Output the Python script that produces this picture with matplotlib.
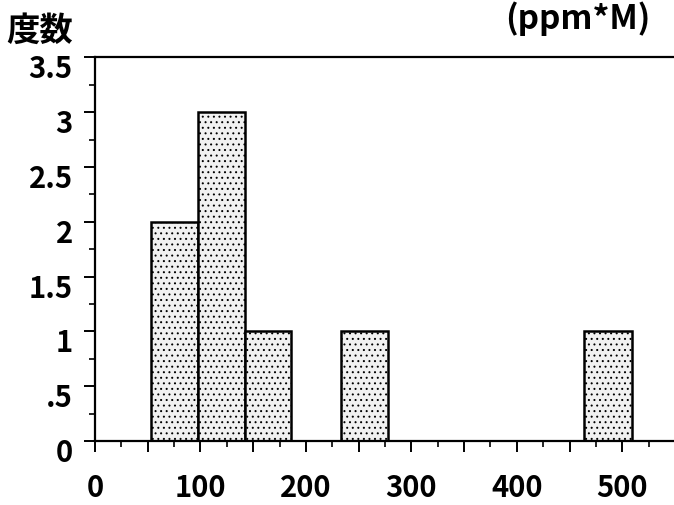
import numpy as np
import matplotlib
matplotlib.use("Agg")
import matplotlib.pyplot as plt
import matplotlib.transforms as mtransforms
from matplotlib.ticker import MultipleLocator, FixedLocator

plt.rcParams['font.family'] = ['Noto Sans CJK JP', 'DejaVu Sans']
plt.rcParams['font.weight'] = 'bold'
plt.rcParams['hatch.color'] = '#b4b4b4'
plt.rcParams['hatch.linewidth'] = 0.7

# histogram bins (ppm*M) and counts
bin_left = [53, 98, 142, 233, 464]
bin_right = [98, 142, 186, 278, 509]
counts = [2, 3, 1, 1, 1]

x_ticks = [0, 50, 100, 150, 200, 250, 300, 350, 400, 450, 500]
x_labels = ['0', '', '100', '', '200', '', '300', '', '400', '', '500']
y_ticks = [0, 0.5, 1, 1.5, 2, 2.5, 3, 3.5]
y_labels = ['0', '.5', '1', '1.5', '2', '2.5', '3', '3.5']

fig = plt.figure(figsize=(6.74, 5.06), dpi=100)
ax = fig.add_axes([95 / 674, 64 / 506, 1 - 95 / 674, (442 - 58.3) / 506])

widths = np.array(bin_right) - np.array(bin_left)
ax.bar(bin_left, counts, width=widths, align='edge', facecolor='#f1f1f1',
       edgecolor='black', linewidth=1.8, hatch='...', zorder=2)

ax.set_xlim(0, 549)
ax.set_ylim(0, 3.5)

ax.spines['right'].set_visible(False)
for s in ['left', 'bottom', 'top']:
    ax.spines[s].set_linewidth(1.6)

ax.xaxis.set_major_locator(FixedLocator(x_ticks))
ax.set_xticklabels(x_labels)
ax.xaxis.set_minor_locator(MultipleLocator(25))
ax.yaxis.set_major_locator(FixedLocator(y_ticks))
ax.set_yticklabels(y_labels)
ax.yaxis.set_minor_locator(MultipleLocator(0.25))

ax.tick_params(which='major', direction='out', length=8, width=1.4,
               labelsize=21, pad=6)
ax.tick_params(which='minor', direction='out', length=4, width=1.2)
ax.tick_params(axis='x', which='major', pad=14)
ax.tick_params(axis='y', which='major', pad=8)

offset = mtransforms.ScaledTranslation(0, -8 / 100, fig.dpi_scale_trans)
for lab in ax.get_yticklabels():
    lab.set_transform(lab.get_transform() + offset)

fig.text(40 / 674, 1 - 31 / 506, '度数', fontsize=24, fontweight='bold',
         ha='center', va='center')
fig.text(650 / 674, 1 - 29 / 506, '(ppm*M)', fontsize=24, fontweight='bold',
         ha='right', va='baseline')

fig.savefig('out.png', dpi=100)
